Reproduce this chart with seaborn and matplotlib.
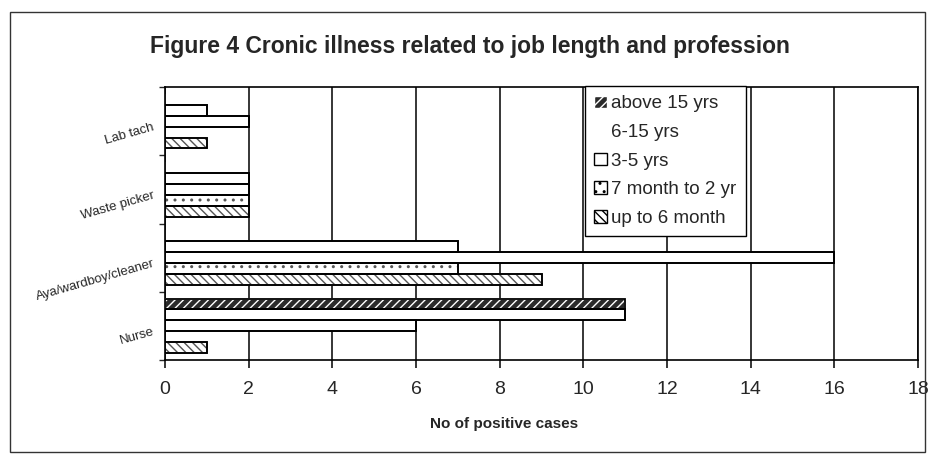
import numpy as np
import pandas as pd
import matplotlib
matplotlib.use('Agg')
import matplotlib.pyplot as plt
from matplotlib.patches import Patch, Rectangle
import seaborn as sns

# data
jobs = ['Lab tach', 'Waste picker', 'Aya/wardboy/cleaner', 'Nurse']
lengths = ['above 15 yrs', '6-15 yrs', '3-5 yrs', '7 month to 2 yr', 'up to 6 month']

above_15 = [0, 0, 0, 11]
yrs_6_15 = [1, 2, 7, 11]
yrs_3_5 = [2, 2, 16, 6]
month7_to_2yr = [0, 2, 7, 0]
upto_6_month = [1, 2, 9, 1]

xticks = list(range(0, 19, 2))

series = [above_15, yrs_6_15, yrs_3_5, month7_to_2yr, upto_6_month]
rows = []
for lab, vals in zip(lengths, series):
	for job, v in zip(jobs, vals):
		rows.append({'job': job, 'length': lab, 'cases': v})
df = pd.DataFrame(rows)

sns.set_style('white')
plt.rcParams['font.family'] = ['Liberation Sans', 'DejaVu Sans']
plt.rcParams['hatch.linewidth'] = 1.0

faces = ['#2a2a2a', 'white', 'white', 'white', 'white']
hatch_cols = ['white', 'black', 'black', '#555555', '#555555']
hatches = ['////', '', '', '..', '\\\\\\\\']

fig = plt.figure(figsize=(9.33, 4.57), dpi=100)
ax = fig.add_axes([165/933, 1-360/457, 753/933, 273/457])

sns.barplot(data=df, x='cases', y='job', hue='length', order=jobs, hue_order=lengths,
			orient='h', palette=['white']*5, saturation=1, width=0.8,
			edgecolor='black', linewidth=1.2, legend=False, ax=ax)

for i, cont in enumerate(ax.containers):
	for bar in cont:
		bar.set_facecolor(faces[i])
		bar.set_hatch(hatches[i])
		bar.set_edgecolor(hatch_cols[i])
		bar.set_zorder(3)
		ax.add_patch(Rectangle((bar.get_x(), bar.get_y()), bar.get_width(), bar.get_height(),
							   fill=False, ec='black', lw=1.3, zorder=4))

ax.set_xlim(0, 18)
ax.set_ylim(3.5, -0.5)
ax.set_xticks(xticks)
ax.set_xticklabels([str(t) for t in xticks], fontsize=14)
ax.grid(axis='x', color='black', lw=1.1)
ax.set_axisbelow(True)
for s in ax.spines.values():
	s.set_color('black')
	s.set_linewidth(1.2)
ax.tick_params(axis='x', direction='out', length=6, width=1.1, color='black', pad=9, bottom=True)
ax.set_yticks(np.arange(-0.5, 4, 1), minor=True)
ax.tick_params(axis='y', which='minor', direction='out', length=4, width=1, left=True)
ax.tick_params(axis='y', which='major', length=0, pad=9)
for t in ax.get_yticklabels():
	t.set_rotation(16)
	t.set_fontsize(9.5)
	t.set_ha('right')
	t.set_va('top')
	t.set_rotation_mode('anchor')
ax.set_ylabel('')
ax.set_xlabel('No of positive cases', fontsize=11, fontweight='bold')
ax.xaxis.set_label_coords(0.45, -0.21)

handles = []
for i, lab in enumerate(lengths):
	ec = 'white' if i in (0, 1) else 'black'
	handles.append(Patch(facecolor=faces[i], edgecolor=ec, hatch=hatches[i], label=lab))
leg = fig.legend(handles=handles, loc='upper left', bbox_to_anchor=(585/933, 1-86/457),
				 fontsize=13.5, frameon=True, fancybox=False, framealpha=1, borderaxespad=0,
				 handlelength=0.65, handleheight=0.65, handletextpad=0.25, labelspacing=0.62,
				 borderpad=0.5)
leg.get_frame().set_edgecolor('black')
leg.get_frame().set_linewidth(1.0)

fig.text(470/933, 1-47/457, 'Figure 4 Cronic illness related to job length and profession',
		 ha='center', va='center', fontsize=16.5, fontweight='bold')

fig.patches.append(Rectangle((10/933, 1-452/457), 915/933, 440/457, transform=fig.transFigure,
							 fill=False, ec='#333333', lw=1.0))

fig.savefig('out.png', dpi=100)
